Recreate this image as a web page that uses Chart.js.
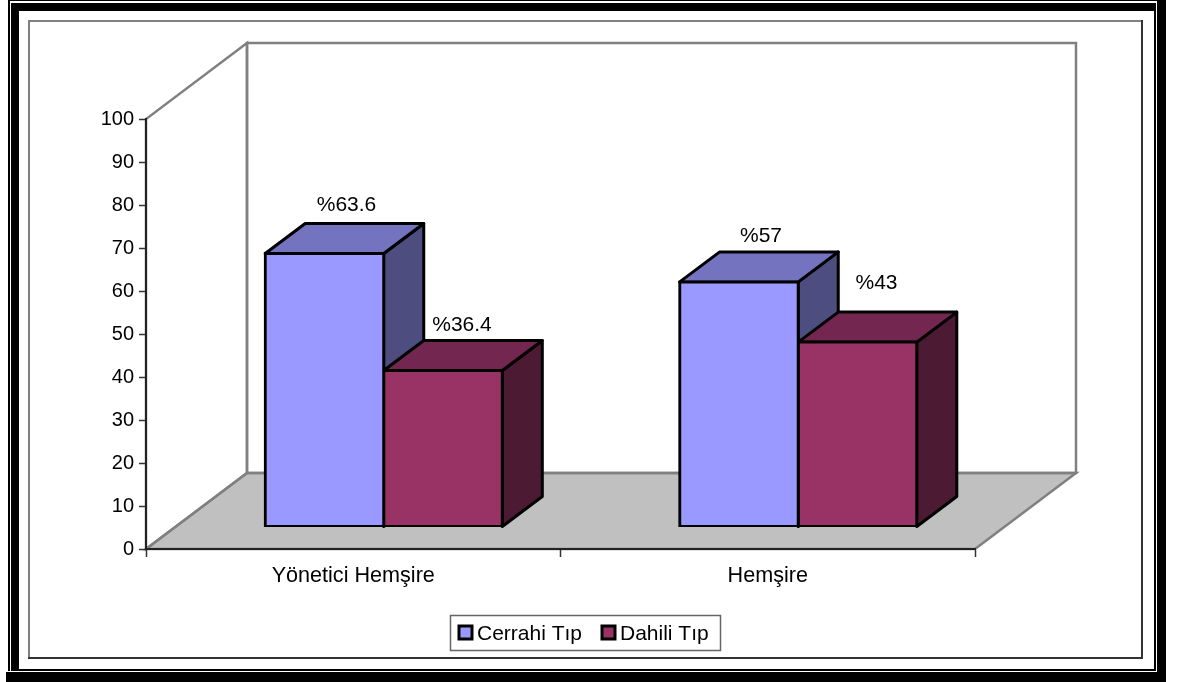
<!DOCTYPE html>
<html>
<head>
<meta charset="utf-8">
<title>Cerrahi / Dahili Tıp</title>
<script src="https://cdn.jsdelivr.net/npm/chart.js@4/dist/chart.umd.min.js"></script>
<style>
  html, body { margin: 0; padding: 0; background: #fff; }
  canvas { display: block; }
</style>
</head>
<body>
<canvas id="chart" width="1179" height="682"></canvas>
<script>
// chart data
var categories = ["Yönetici Hemşire", "Hemşire"];
var seriesNames = ["Cerrahi Tıp", "Dahili Tıp"];
var cerrahi = [63.6, 57];
var dahili = [36.4, 43];
var yTicks = [0, 10, 20, 30, 40, 50, 60, 70, 80, 90, 100];

// colours: front, top, side
var colors = [
  { front: "#9999ff", top: "#7373bf", side: "#4d4d80" },
  { front: "#993366", top: "#732650", side: "#4d1a33" }
];

var fontName = "'Liberation Sans', Arial, sans-serif";
var wallDepth = { x: 101, y: -76 };   // back wall offset from the axes
var barShift = { x: 30.5, y: -22 };   // bars stand on the middle of the floor
var barDepth = { x: 40, y: -30 };     // depth of each 3d bar
// small per label nudges, [dataset][category], the labels are not evenly placed
var labelNudge = [[[22, -48], [22, -46]], [[19, -45], [19, -59]]];

function poly(ctx, pts, fill, stroke, width) {
  ctx.beginPath();
  ctx.moveTo(pts[0][0], pts[0][1]);
  for (var i = 1; i < pts.length; i++) ctx.lineTo(pts[i][0], pts[i][1]);
  ctx.closePath();
  if (fill) { ctx.fillStyle = fill; ctx.fill(); }
  if (stroke) { ctx.strokeStyle = stroke; ctx.lineWidth = width; ctx.stroke(); }
}

var fake3d = {
  id: "fake3d",
  beforeDraw: function (chart) {
    var ctx = chart.ctx, a = chart.chartArea;
    ctx.save();
    ctx.fillStyle = "#fff";
    ctx.fillRect(0, 0, 1179, 682);
    // page frame, outer part
    ctx.fillStyle = "#000";
    ctx.fillRect(8, 0, 1158, 1);
    ctx.fillRect(8, 0, 2, 671);
    ctx.fillRect(1157, 0, 9, 682);
    ctx.fillRect(6, 672, 1160, 10);
    // page frame, inner part
    ctx.fillRect(11, 3, 1145, 8);
    ctx.fillRect(11, 3, 8, 668);
    ctx.fillRect(1154, 3, 2, 668);
    ctx.fillRect(11, 669, 1145, 2);
    // chart border, lighter on top and left
    ctx.fillStyle = "#808080";
    ctx.fillRect(28, 20, 1115, 2);
    ctx.fillRect(28, 20, 2, 639);
    ctx.fillStyle = "#333";
    ctx.fillRect(1141, 20, 2, 639);
    ctx.fillRect(28, 657, 1115, 2);

    // walls and floor
    var dx = wallDepth.x, dy = wallDepth.y;
    poly(ctx, [[a.left, a.bottom], [a.left + dx, a.bottom + dy], [a.right + dx, a.bottom + dy], [a.right, a.bottom]], "#c0c0c0", "#808080", 2.5);
    poly(ctx, [[a.left, a.bottom], [a.left, a.top], [a.left + dx, a.top + dy], [a.left + dx, a.bottom + dy]], null, "#808080", 2.5);
    poly(ctx, [[a.left + dx, a.top + dy], [a.right + dx, a.top + dy], [a.right + dx, a.bottom + dy], [a.left + dx, a.bottom + dy]], null, "#808080", 2.5);
    ctx.restore();
  },
  beforeDatasetsDraw: function (chart) {
    var ctx = chart.ctx;
    ctx.save();
    ctx.translate(barShift.x, barShift.y);
    ctx.lineJoin = "round";
    chart.data.datasets.forEach(function (ds, d) {
      chart.getDatasetMeta(d).data.forEach(function (bar) {
        var l = bar.x - bar.width / 2, r = bar.x + bar.width / 2;
        var t = bar.y, b = bar.base;
        var px = barDepth.x, py = barDepth.y;
        poly(ctx, [[r, t], [r + px, t + py], [r + px, b + py], [r, b]], colors[d].side, "#000", 3);
        poly(ctx, [[l, t], [l + px, t + py], [r + px, t + py], [r, t]], colors[d].top, "#000", 3);
      });
    });
    ctx.restore();
  },
  beforeDatasetDraw: function (chart) {
    chart.ctx.save();
    chart.ctx.translate(barShift.x, barShift.y);
  },
  afterDatasetDraw: function (chart) {
    chart.ctx.restore();
  },
  afterDraw: function (chart) {
    var ctx = chart.ctx;
    ctx.save();
    // value labels
    ctx.font = "21px " + fontName;
    ctx.fillStyle = "#000";
    ctx.textAlign = "center";
    ctx.textBaseline = "middle";
    chart.data.datasets.forEach(function (ds, d) {
      chart.getDatasetMeta(d).data.forEach(function (bar, i) {
        var n = labelNudge[d][i];
        ctx.fillText("%" + ds.data[i], bar.x + barShift.x + n[0], bar.y + barShift.y + n[1]);
      });
    });
    // legend box
    ctx.fillStyle = "#fff";
    ctx.strokeStyle = "#666";
    ctx.lineWidth = 1.5;
    ctx.fillRect(450.5, 615.5, 270, 35);
    ctx.strokeRect(450.5, 615.5, 270, 35);
    var keyX = [459, 602];
    ctx.textAlign = "left";
    chart.data.datasets.forEach(function (ds, d) {
      ctx.fillStyle = colors[d].front;
      ctx.strokeStyle = "#000";
      ctx.lineWidth = 3;
      ctx.fillRect(keyX[d], 626, 13, 13);
      ctx.strokeRect(keyX[d], 626, 13, 13);
      ctx.fillStyle = "#000";
      ctx.fillText(ds.label, keyX[d] + 18, 634);
    });
    ctx.restore();
  }
};

var ctx = document.getElementById("chart").getContext("2d");
var chart = new Chart(ctx, {
  type: "bar",
  data: {
    labels: categories,
    datasets: [
      { label: seriesNames[0], data: cerrahi, backgroundColor: colors[0].front },
      { label: seriesNames[1], data: dahili, backgroundColor: colors[1].front }
    ]
  },
  plugins: [fake3d],
  options: {
    responsive: false,
    animation: false,
    layout: { padding: { left: 0, right: 204, top: 119, bottom: 0 } },
    datasets: {
      bar: {
        categoryPercentage: 0.572,
        barPercentage: 1,
        borderColor: "#000",
        borderWidth: 3,
        borderSkipped: false,
        inflateAmount: 1.5
      }
    },
    plugins: {
      legend: { display: false },
      tooltip: { enabled: false }
    },
    scales: {
      x: {
        afterFit: function (scale) { scale.height = 133; },
        grid: { drawOnChartArea: false, tickLength: 8, tickColor: "#333", tickWidth: 1.5 },
        border: { color: "#222", width: 2 },
        ticks: { color: "#000", font: { family: fontName, size: 21.6 }, padding: 6, maxRotation: 0 }
      },
      y: {
        min: 0,
        max: 100,
        afterFit: function (scale) { scale.width = 146; },
        afterBuildTicks: function (scale) {
          scale.ticks = yTicks.map(function (v) { return { value: v }; });
        },
        grid: { drawOnChartArea: false, tickLength: 7, tickColor: "#333", tickWidth: 1.5 },
        border: { color: "#222", width: 2 },
        ticks: { color: "#000", font: { family: fontName, size: 20 }, padding: 5 }
      }
    }
  }
});
</script>
</body>
</html>
